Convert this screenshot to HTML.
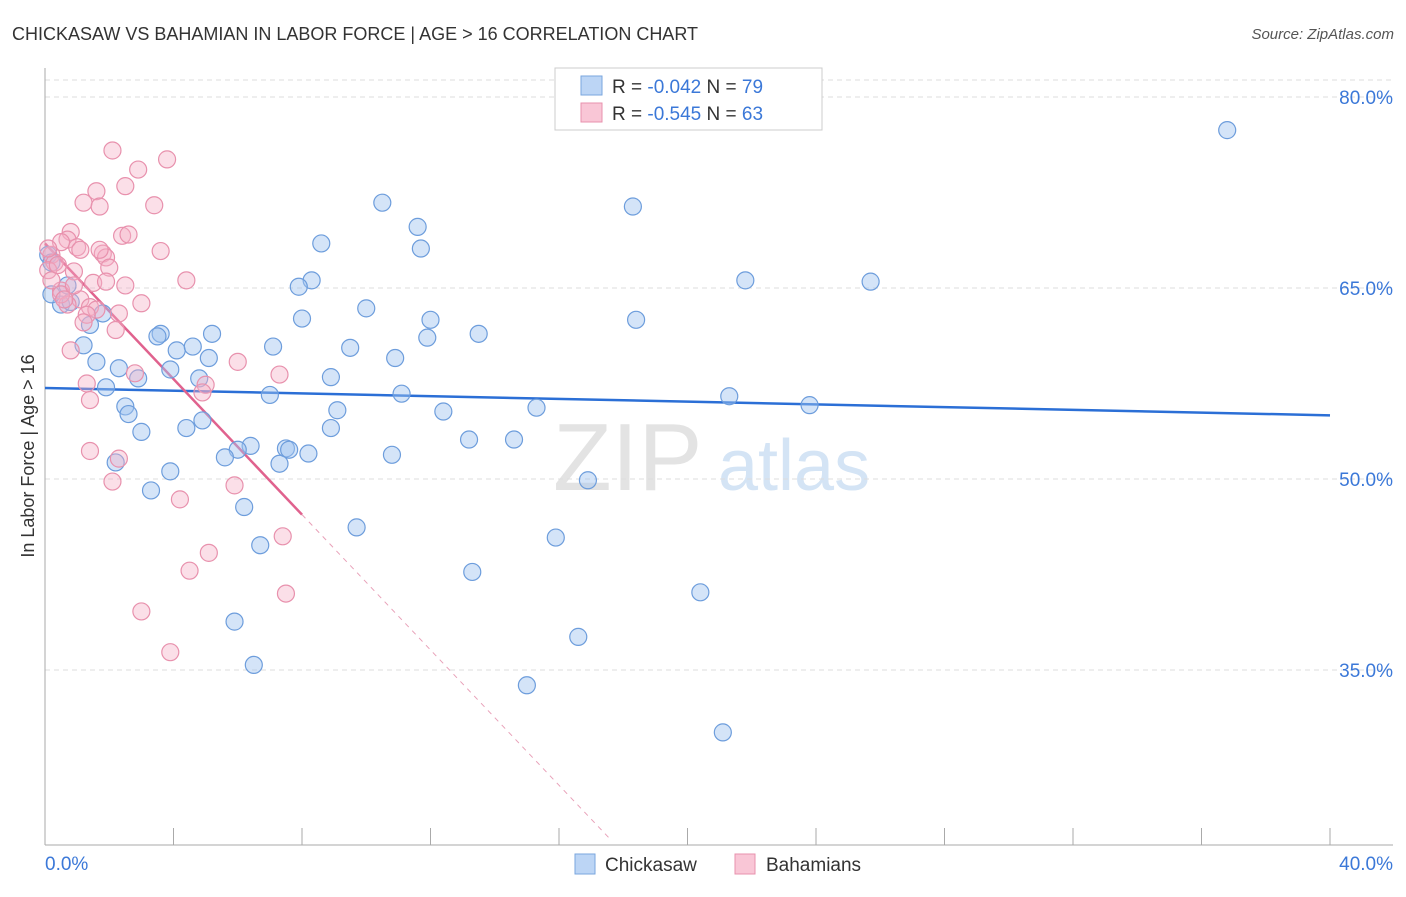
<!DOCTYPE html>
<html><head><meta charset="utf-8"><style>
body{margin:0;background:#fff;font-family:"Liberation Sans",sans-serif}
svg text{font-family:"Liberation Sans",sans-serif}
</style></head><body>
<svg id="chart" width="1406" height="892" xmlns="http://www.w3.org/2000/svg">
<text x="12" y="40" font-size="18" fill="#333">CHICKASAW VS BAHAMIAN IN LABOR FORCE | AGE &gt; 16 CORRELATION CHART</text>
<text x="1394" y="39" font-size="15" fill="#555" text-anchor="end" font-style="italic">Source: ZipAtlas.com</text>
<text transform="translate(34,456) rotate(-90)" font-size="18" fill="#333" text-anchor="middle">In Labor Force | Age &gt; 16</text>
<g><text x="553" y="490" font-size="96" fill="#e3e3e3" font-family="Liberation Serif">ZIP</text><text x="718" y="490" font-size="72" fill="#d4e4f5">atlas</text></g>
<g id="grid"></g><g id="axes"></g><g id="trends"></g><g id="pts"></g>
<g>
<rect x="555" y="68" width="267" height="62" fill="#fff" stroke="#ccc"/>
<rect x="581" y="76" width="21" height="19" fill="#bcd5f5" stroke="#7aa6de"/>
<rect x="581" y="103" width="21" height="19" fill="#f9c6d6" stroke="#e891ad"/>
<text x="612" y="93" font-size="19" fill="#333">R = <tspan fill="#3b78d8">-0.042</tspan>   N = <tspan fill="#3b78d8">79</tspan></text>
<text x="612" y="120" font-size="19" fill="#333">R = <tspan fill="#3b78d8">-0.545</tspan>   N = <tspan fill="#3b78d8">63</tspan></text>
</g>
<g>
<rect x="575" y="854" width="20" height="20" fill="#bcd5f5" stroke="#7aa6de"/>
<text x="605" y="871" font-size="19" fill="#333">Chickasaw</text>
<rect x="735" y="854" width="20" height="20" fill="#f9c6d6" stroke="#e891ad"/>
<text x="766" y="871" font-size="19" fill="#333">Bahamians</text>
</g>
</svg>
<script>
const yTicks=[80,65,50,35];
const xTickLabels=["0.0%","40.0%"];
const blueX=[36.8,18.3,10.5,11.6,11.7,8.6,8.3,7.9,21.8,25.7,10.0,8.0,12.0,11.9,13.5,18.4,0.5,0.8,1.4,1.8,5.2,3.6,3.5,4.1,4.6,5.1,7.1,9.5,10.9,1.2,1.6,2.3,2.9,3.9,4.8,1.9,7.0,8.9,11.1,21.3,23.8,9.1,12.4,15.3,2.5,2.6,3.0,4.4,4.9,8.9,13.2,14.6,6.4,6.0,5.6,7.5,7.6,8.2,7.3,10.8,2.2,3.9,16.9,3.3,6.2,9.7,15.9,6.7,13.3,20.4,5.9,16.6,6.5,15.0,21.1,0.1,0.2,0.2,0.7];
const blueY=[77.4,71.4,71.7,69.8,68.1,68.5,65.6,65.1,65.6,65.5,63.4,62.6,62.5,61.1,61.4,62.5,63.7,63.9,62.1,63.0,61.4,61.4,61.2,60.1,60.4,59.5,60.4,60.3,59.5,60.5,59.2,58.7,57.9,58.6,57.9,57.2,56.6,58.0,56.7,56.5,55.8,55.4,55.3,55.6,55.7,55.1,53.7,54.0,54.6,54.0,53.1,53.1,52.6,52.3,51.7,52.4,52.3,52.0,51.2,51.9,51.3,50.6,49.9,49.1,47.8,46.2,45.4,44.8,42.7,41.1,38.8,37.6,35.4,33.8,30.1,67.6,67.0,64.5,65.2];
const pinkX=[2.1,3.8,2.9,1.6,2.5,1.2,1.7,3.4,0.8,0.7,0.5,1.0,1.1,2.4,2.6,1.8,1.9,3.6,0.2,0.3,0.1,0.9,2.0,4.4,1.5,1.9,2.5,0.5,1.1,0.7,3.0,1.4,1.6,1.3,1.2,2.2,0.8,6.0,7.3,2.8,1.3,5.0,4.9,1.4,1.4,2.3,2.1,5.9,4.2,7.4,5.1,4.5,7.5,3.0,3.9,0.1,0.2,0.5,0.4,2.3,1.7,0.6,0.9];
const pinkY=[75.8,75.1,74.3,72.6,73.0,71.7,71.4,71.5,69.4,68.8,68.6,68.2,68.0,69.1,69.2,67.7,67.4,67.9,67.6,67.0,66.4,66.3,66.6,65.6,65.4,65.5,65.2,64.8,64.1,63.7,63.8,63.5,63.3,62.9,62.3,61.7,60.1,59.2,58.2,58.3,57.5,57.4,56.8,56.2,52.2,51.6,49.8,49.5,48.4,45.5,44.2,42.8,41.0,39.6,36.4,68.1,65.6,64.5,66.8,63.0,68.0,64.1,65.2];
const blueTrend=[[0,57.15],[40,55.0]];
const pinkTrendSolid=[[0,68.5],[8.0,47.2]];
const pinkTrendDash=[[8.0,47.2],[17.6,21.7]];
const NS="http://www.w3.org/2000/svg";
const X0=45,X1=1330,Y80=97,PXPER=191/15;
const sx=v=>X0+(v/40)*(X1-X0);
const sy=v=>Y80+(80-v)*PXPER;
function mk(tag,attrs,parent){const e=document.createElementNS(NS,tag);for(const k in attrs)e.setAttribute(k,attrs[k]);document.getElementById(parent).appendChild(e);return e;}
mk('line',{x1:X0,x2:1393,y1:80,y2:80,stroke:'#ddd','stroke-dasharray':'5,4'},'grid');
yTicks.forEach(t=>{
 const l=mk('line',{x1:X0,x2:1393,y1:sy(t),y2:sy(t),stroke:'#ddd','stroke-dasharray':'5,4'},'grid');
 
 
 const tx=mk('text',{x:1393,y:sy(t)+7,'font-size':19,fill:'#3b78d8','text-anchor':'end'},'grid');
 tx.textContent=t.toFixed(1)+'%';
 
 
});
const ax=mk('line',{x1:X0,x2:X0,y1:68,y2:845,stroke:'#aaa'},'axes');


const bx=mk('line',{x1:X0,x2:1393,y1:845,y2:845,stroke:'#aaa'},'axes');


for(let i=0;i<=10;i++){const t=mk('line',{x1:sx(i*4),x2:sx(i*4),y1:828,y2:845,stroke:'#aaa'},'axes');
 
 }
[[0,'start',45],[40,'end',1393]].forEach((d,i)=>{const t=mk('text',{x:d[2],y:870,'font-size':19,fill:'#3b78d8','text-anchor':d[1]},'axes');t.textContent=xTickLabels[i];
 
 });
function ln(p,st,w,dash,name){const l=mk('line',{x1:sx(p[0][0]),y1:sy(p[0][1]),x2:sx(p[1][0]),y2:sy(p[1][1]),stroke:st,'stroke-width':w},'trends');if(dash)l.setAttribute('stroke-dasharray',dash);
 
 }
ln(blueTrend,'#2b6fd6',2.5,null,'chickasaw-trend-line');
ln(pinkTrendSolid,'#e0628e',2.5,null,'bahamians-trend-line');
ln(pinkTrendDash,'#e8a0b8',1,'5,5','bahamians-trend-extension');
blueX.forEach((x,i)=>{const c=mk('circle',{cx:sx(x),cy:sy(blueY[i]),r:8.5,fill:'rgba(160,196,240,0.45)',stroke:'#6d9ddc','stroke-width':1.2},'pts');
 
 });
pinkX.forEach((x,i)=>{const c=mk('circle',{cx:sx(x),cy:sy(pinkY[i]),r:8.5,fill:'rgba(245,175,198,0.4)',stroke:'#e891ad','stroke-width':1.2},'pts');
 
 });
</script>
</body></html>
